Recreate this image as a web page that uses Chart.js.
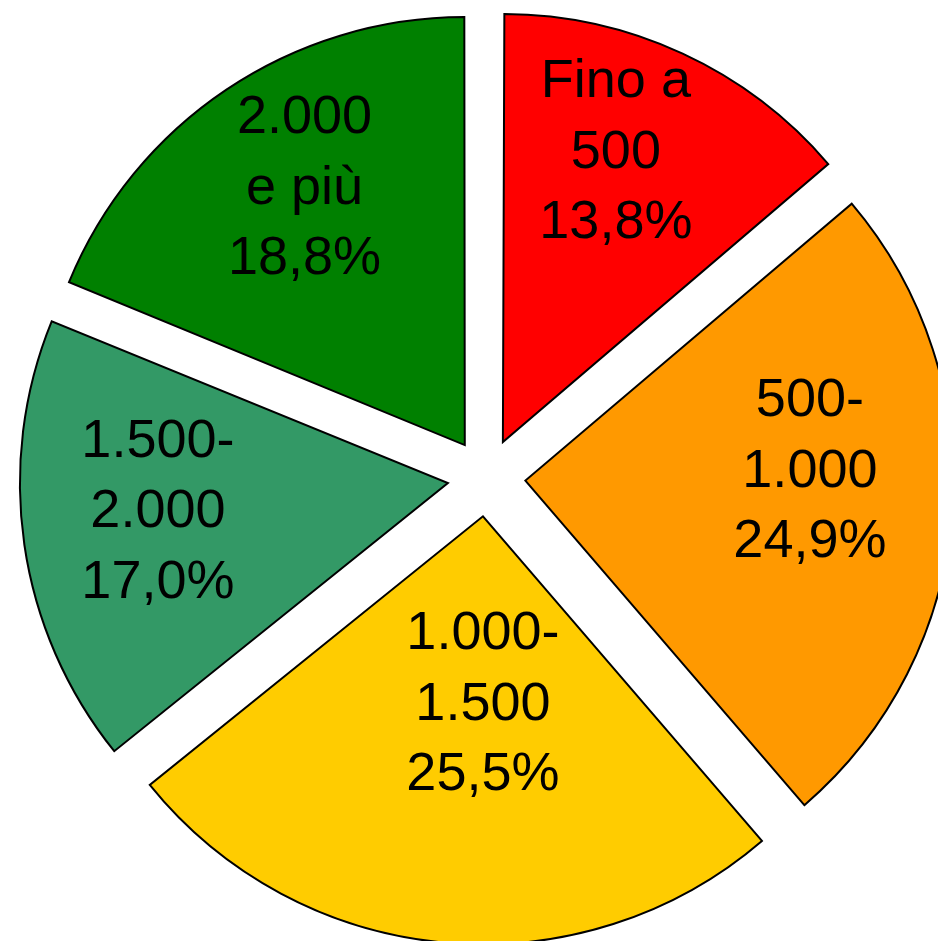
<!DOCTYPE html>
<html>
<head>
<meta charset="utf-8">
<script src="https://cdn.jsdelivr.net/npm/chart.js@4/dist/chart.umd.min.js"></script>
<style>
  html, body { margin: 0; padding: 0; background: #fff; }
  canvas { display: block; }
</style>
</head>
<body>
<canvas id="pieChart" width="938" height="941"></canvas>
<script>
'use strict';

// fasce e quote percentuali, in senso orario dalle ore 12
const categories = [
  ['Fino a', '500'],
  ['500-', '1.000'],
  ['1.000-', '1.500'],
  ['1.500-', '2.000'],
  ['2.000', 'e più'],
];
const shares = [13.8, 24.9, 25.5, 17.0, 18.8];
const colors = ['#FF0000', '#FF9900', '#FFCC00', '#339966', '#008000'];

// posizione delle etichette: frazione del raggio e scarto in gradi dalla bisettrice
const labelRadius = [0.827, 0.756, 0.52, 0.771, 0.806];
const labelShift = [-3.4, -6.3, -4.3, 3.0, 2.0];

const RADIUS = 428;
const EXPLODE = 39; // spostamento reale di ogni fetta, in px

const fmt = (v) => v.toFixed(1).replace('.', ',') + '%';

// Chart.js allarga il raggio delle fette strette quando c'e' l'offset: lo riporto a RADIUS
const fixRadius = {
  id: 'fixRadius',
  afterDatasetsUpdate(chart) {
    const meta = chart.getDatasetMeta(0);
    meta.data.forEach((arc) => {
      const circ = arc.endAngle - arc.startAngle;
      const fix = 1 - Math.sin(Math.min(Math.PI, circ));
      arc.outerRadius = RADIUS - EXPLODE * fix;
    });
  },
};

const sliceLabels = {
  id: 'sliceLabels',
  afterDatasetsDraw(chart) {
    const ctx = chart.ctx;
    const meta = chart.getDatasetMeta(0);
    ctx.save();
    ctx.fillStyle = '#000';
    ctx.font = '54px "Liberation Sans", Arial, sans-serif';
    ctx.textAlign = 'center';
    ctx.textBaseline = 'alphabetic';
    meta.data.forEach((arc, i) => {
      const mid = (arc.startAngle + arc.endAngle) / 2 + labelShift[i] * Math.PI / 180;
      const r = labelRadius[i] * RADIUS;
      const cx = arc.x + Math.cos(mid) * r;
      const cy = arc.y + Math.sin(mid) * r;
      const lines = [categories[i][0], categories[i][1], fmt(shares[i])];
      const base = cy + 19.5;
      lines.forEach((t, k) => {
        ctx.fillText(t, cx, base + (k - 1) * 70.5);
      });
    });
    ctx.restore();
  },
};

new Chart(document.getElementById('pieChart'), {
  type: 'pie',
  data: {
    labels: categories.map((c) => c.join(' ')),
    datasets: [
      {
        data: shares,
        backgroundColor: colors,
        borderColor: '#000',
        borderWidth: 2,
        borderJoinStyle: 'miter',
        offset: EXPLODE * 4,
        hoverOffset: EXPLODE * 4,
        clip: false,
      },
    ],
  },
  options: {
    responsive: false,
    animation: false,
    radius: RADIUS,
    layout: { padding: { left: 35, top: 14, right: 0, bottom: 0 } },
    plugins: {
      legend: { display: false },
      tooltip: { enabled: false },
    },
    events: [],
  },
  plugins: [fixRadius, sliceLabels],
});
</script>
</body>
</html>
